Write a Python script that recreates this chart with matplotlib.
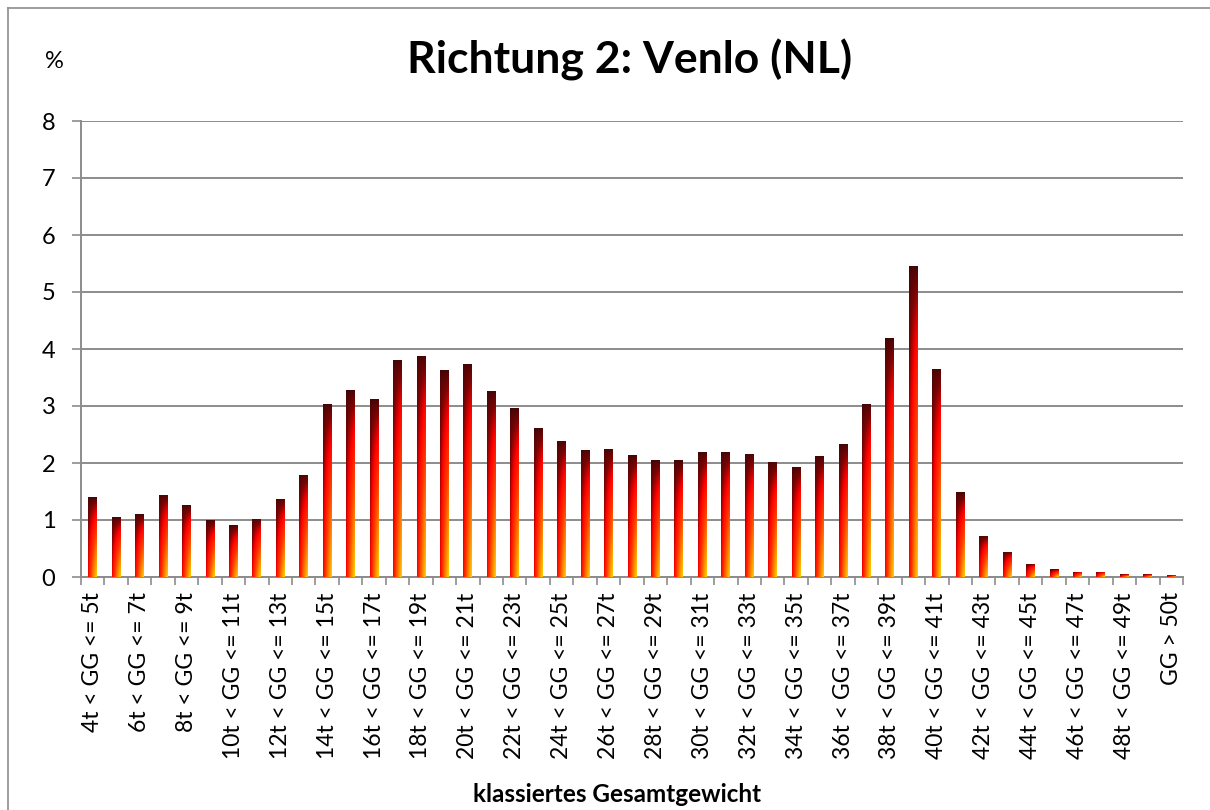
import numpy as np
import matplotlib
matplotlib.use("Agg")
import matplotlib.pyplot as plt
from matplotlib.colors import LinearSegmentedColormap
from matplotlib.lines import Line2D

# ---- data ----
lower = list(range(4, 50))
categories = [f"{a}t < GG <= {a+1}t" for a in lower] + ["GG > 50t"]
values = [1.40, 1.05, 1.10, 1.44, 1.26, 1.00, 0.91, 1.02, 1.37, 1.79,
          3.04, 3.28, 3.12, 3.81, 3.88, 3.63, 3.74, 3.26, 2.96, 2.61,
          2.39, 2.23, 2.25, 2.14, 2.05, 2.05, 2.19, 2.19, 2.16, 2.02,
          1.93, 2.12, 2.33, 3.04, 4.19, 5.46, 3.65, 1.49, 0.72, 0.44,
          0.23, 0.14, 0.09, 0.09, 0.05, 0.05, 0.03]
title = "Richtung 2: Venlo (NL)"
xlabel = "klassiertes Gesamtgewicht"
ylabel = "%"
yticks = [0, 1, 2, 3, 4, 5, 6, 7, 8]

FONT = ["Lato", "DejaVu Sans"]
plt.rcParams["font.family"] = FONT
GRAY = "#8c8c8c"

fig = plt.figure(figsize=(12.1, 8.1), dpi=100)
ax = fig.add_axes([81/1210, 1-577/810, (1183-81)/1210, (577-121)/810])

n = len(categories)
x = np.arange(n)
bars = ax.bar(x, values, width=0.38, color="none", edgecolor="none", zorder=3)

cmap = LinearSegmentedColormap.from_list(
    "fire", [(0.0, "#3c0606"), (0.2, "#7a0404"), (0.38, "#ff0000"),
             (0.6, "#ff3a00"), (0.8, "#ff8c00"), (1.0, "#ffd800")])
ny, nx = 80, 12
xf = (np.arange(nx) + 0.5) / nx
hf = (np.arange(ny) + 0.5) / ny       # 0 at bottom row (origin lower)
depth = 1 - hf                         # 0 at top, 1 at bottom
grad = (depth[:, None] ** 0.6) * (0.3 + 0.7 * xf[None, :] ** 0.7)
for b in bars:
    x0 = b.get_x(); w = b.get_width(); h = b.get_height()
    im = ax.imshow(grad, cmap=cmap, vmin=0, vmax=1, origin="lower",
                   extent=[x0, x0 + w, 0, h], aspect="auto",
                   interpolation="bilinear", zorder=3)
    im.set_clip_path(b)

ax.set_xlim(-0.5, n - 0.5)
ax.set_ylim(0, 8)
ax.set_yticks(yticks)
ax.set_yticklabels([str(t) for t in yticks], fontsize=17)
ax.yaxis.grid(True, color=GRAY, linewidth=1.4, zorder=0)
ax.set_axisbelow(True)

# major ticks at category boundaries, labels on minor ticks at centers
ax.set_xticks(np.arange(n + 1) - 0.5)
ax.set_xticklabels([])
ax.set_xticks(x, minor=True)
ax.set_xticklabels([c if i % 2 == 0 else "" for i, c in enumerate(categories)],
                   minor=True, rotation=90, fontsize=16.5, va="top", ha="center")
ax.tick_params(axis="x", which="major", length=5.5, width=1.2, color=GRAY, direction="out")
ax.tick_params(axis="x", which="minor", length=0, pad=11)
ax.tick_params(axis="y", which="major", length=6.5, width=1.2, color=GRAY,
               direction="out", pad=12)

for s in ["top", "right"]:
    ax.spines[s].set_visible(False)
for s in ["left", "bottom"]:
    ax.spines[s].set_color(GRAY)
    ax.spines[s].set_linewidth(1.4)

fig.text(630/1210, 1-60/810, title, fontsize=32, fontweight="bold",
         ha="center", va="center")
fig.text(54/1210, 1-61/810, ylabel, fontsize=17, ha="center", va="center")
fig.text(617/1210, 1-795/810, xlabel, fontsize=17.5, fontweight="bold",
         ha="center", va="center")

# outer chart border
fig.add_artist(Line2D([8/1210, 8/1210], [0, 1-8/810], color=GRAY, lw=1.2,
                      transform=fig.transFigure))
fig.add_artist(Line2D([8/1210, 1], [1-8/810, 1-8/810], color=GRAY, lw=1.2,
                      transform=fig.transFigure))

fig.savefig("out.png", dpi=100, facecolor="white")
